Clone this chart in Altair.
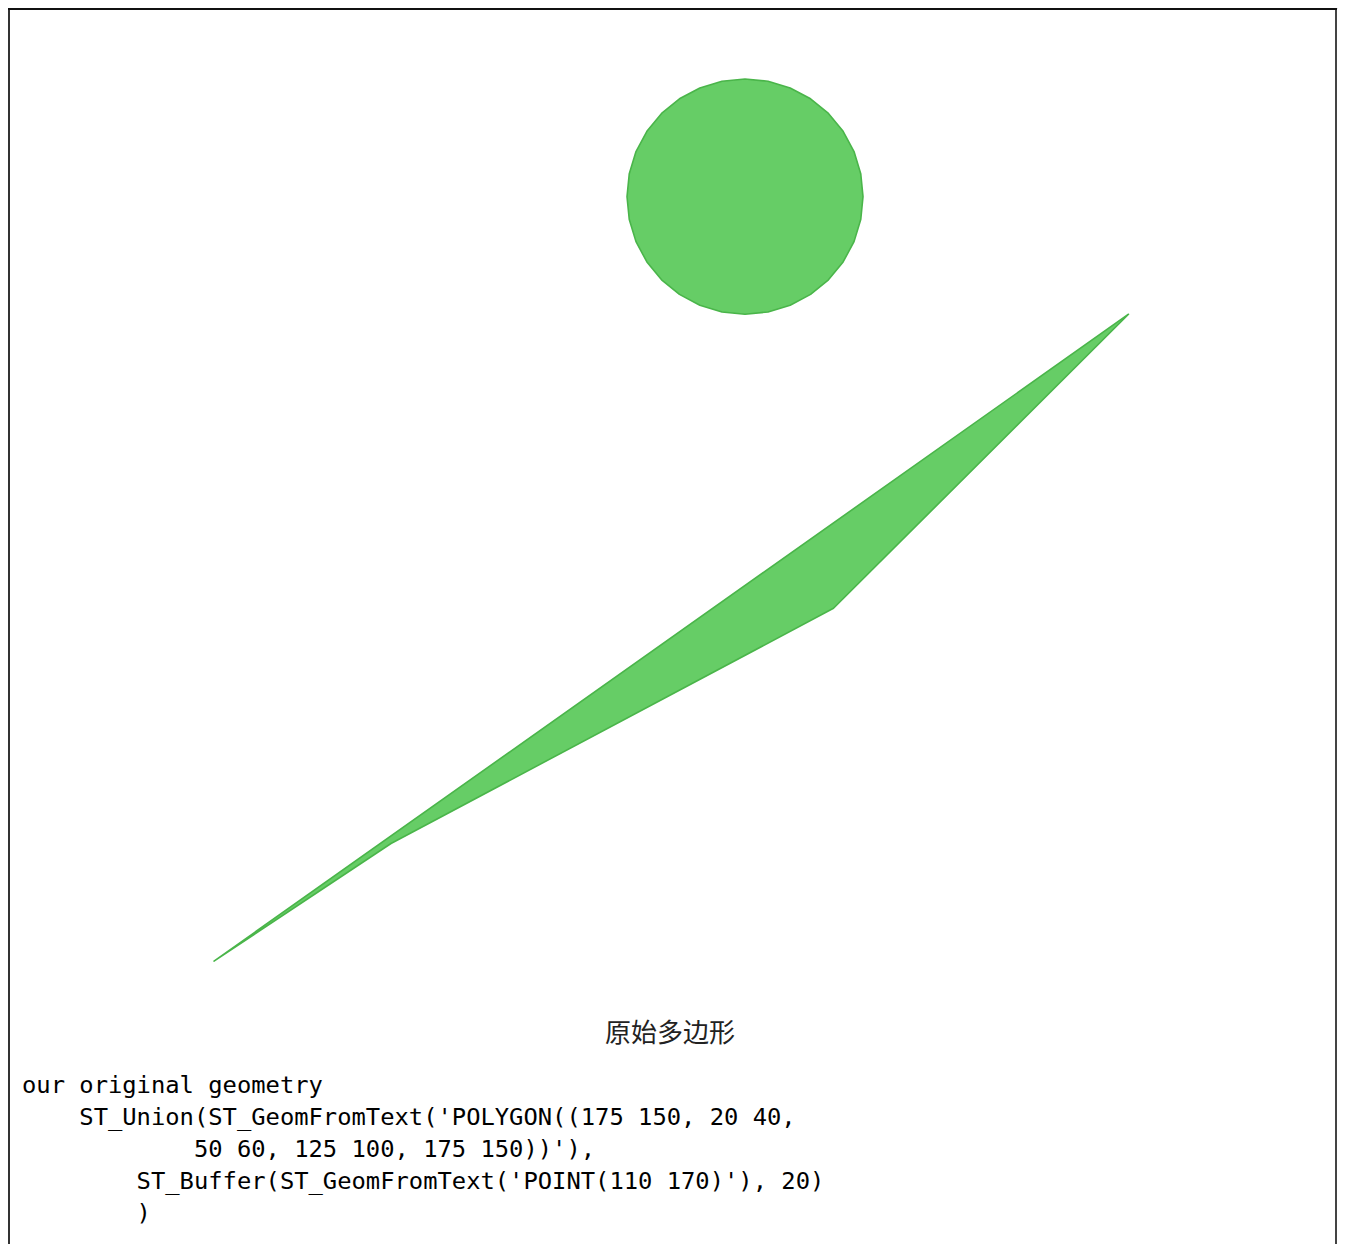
import numpy as np
import pandas as pd
import altair as alt

# Geometry data (PostGIS example)
poly_x = [175, 20, 50, 125, 175]
poly_y = [150, 40, 60, 100, 150]
circle_center_x = [110]
circle_center_y = [170]
circle_radius = [20]
quad_segs = 8

title_text = "原始多边形"
caption_lines = [
    "our original geometry",
    "ST_Union(ST_GeomFromText('POLYGON((175 150, 20 40,",
    "50 60, 125 100, 175 150))'),",
    "ST_Buffer(ST_GeomFromText('POINT(110 170)'), 20)",
    ")",
]
caption_indent = [0, 4, 12, 8, 8]

# Build the shapes table (buffer of the point = 4*quad_segs-gon)
rows = []
for i, (x, y) in enumerate(zip(poly_x, poly_y)):
    rows.append({"shape": "polygon", "order": i, "x": x, "y": y})
n = 4 * quad_segs
for k in range(n + 1):
    a = 2 * np.pi * k / n
    rows.append({
        "shape": "buffer",
        "order": k,
        "x": circle_center_x[0] + circle_radius[0] * np.cos(a),
        "y": circle_center_y[0] + circle_radius[0] * np.sin(a),
    })
shapes = pd.DataFrame(rows)

W, H = 1330, 1236
xs = alt.Scale(domain=[-14.92, 210.51], nice=False, zero=False)
ys = alt.Scale(domain=[-8.1, 202.07], nice=False, zero=False)

geom = alt.Chart(shapes).mark_line(
    fill="#66cd66", stroke="#4ab54a", strokeWidth=1.6, interpolate="linear-closed",
    strokeJoin="round"
).encode(
    x=alt.X("x:Q", scale=xs, axis=None),
    y=alt.Y("y:Q", scale=ys, axis=None),
    detail="shape:N",
    order="order:Q",
)

dummy = pd.DataFrame({"a": [0]})

frame_left = alt.Chart(dummy).mark_rule(color="#333", strokeWidth=2).encode(
    x=alt.value(1), y=alt.value(0), y2=alt.value(H)
)
frame_right = alt.Chart(dummy).mark_rule(color="#444", strokeWidth=2).encode(
    x=alt.value(1328), y=alt.value(0), y2=alt.value(H)
)
frame_top = alt.Chart(dummy).mark_rule(color="#111", strokeWidth=2).encode(
    x=alt.value(0), x2=alt.value(1329), y=alt.value(1)
)

title = alt.Chart(dummy).mark_text(
    text=title_text, font="Noto Sans CJK SC", fontSize=26, color="#222",
    align="center", baseline="middle"
).encode(x=alt.value(662), y=alt.value(1026))

char_w = 0.602 * 23.8
caption_layers = []
for i, (line, ind) in enumerate(zip(caption_lines, caption_indent)):
    caption_layers.append(
        alt.Chart(dummy).mark_text(
            text=line, font="DejaVu Sans Mono", fontSize=23.8, color="#000",
            align="left", baseline="middle"
        ).encode(x=alt.value(14 + ind * char_w), y=alt.value(1078 + 32 * i))
    )

chart = alt.layer(geom, frame_left, frame_right, frame_top, title, *caption_layers).properties(
    width=W, height=H, padding=0, autosize=alt.AutoSizeParams(type="none")
).configure_view(stroke=None).configure(background="white")

chart.save("out.html", embed_options={"renderer": "svg", "actions": False})
